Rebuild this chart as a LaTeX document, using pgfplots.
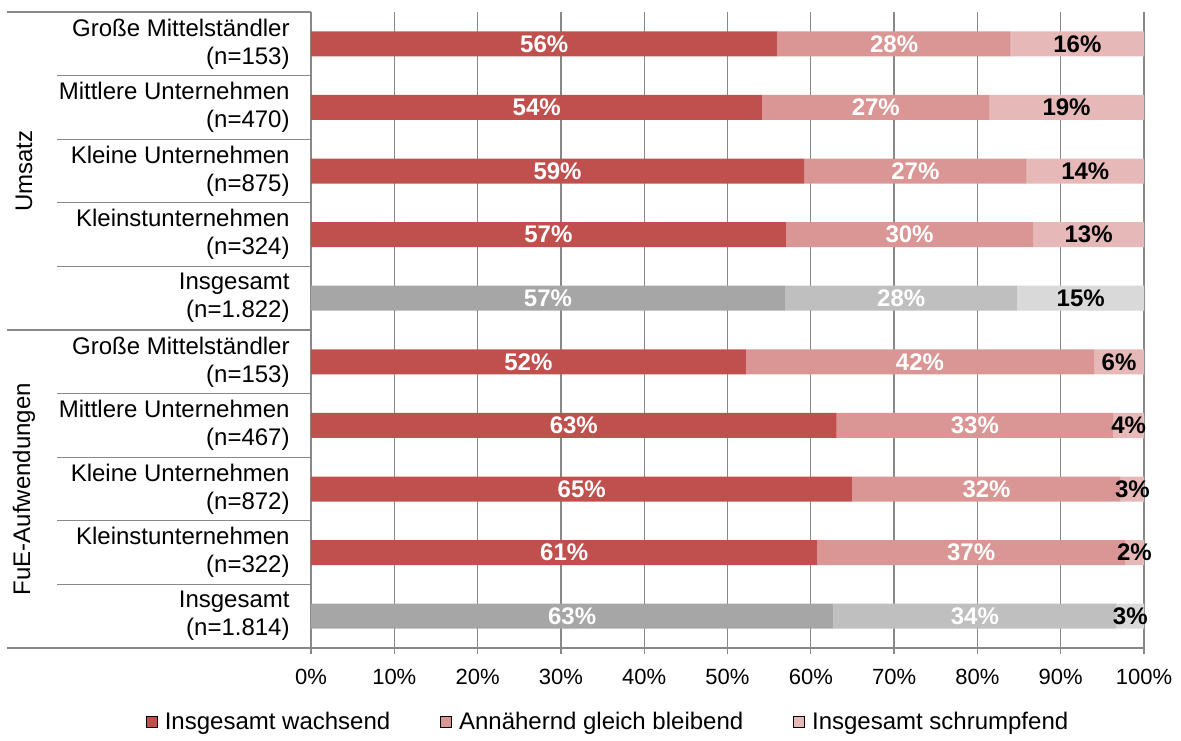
\documentclass[border=0pt]{standalone}
\usepackage{fontspec}
\setmainfont{Liberation Sans}
\usepackage{pgfplots}
\pgfplotsset{compat=1.18}
\usepackage{pgfplotstable}

\definecolor{cA}{HTML}{C0504D}
\definecolor{cB}{HTML}{D99694}
\definecolor{cC}{HTML}{E6B9B8}
\definecolor{gA}{HTML}{A6A6A6}
\definecolor{gB}{HTML}{BFBFBF}
\definecolor{gC}{HTML}{D9D9D9}
\definecolor{lineg}{HTML}{888888}

\pgfplotstableread{
y a b c g
9 56.0 28.0 16.0 0
8 54.2 27.2 18.6 0
7 59.2 26.7 14.1 0
6 57.0 29.7 13.3 0
5 56.9 27.9 15.2 1
4 52.2 41.8 6.0 0
3 63.1 33.2 3.7 0
2 65.0 32.2 2.8 0
1 60.8 36.9 2.3 0
0 62.7 34.0 3.3 1
}\data

\pgfplotsset{
  common/.style={
    scale only axis, width=416.5pt, height=318pt,
    at={(0,0)}, anchor=south west,
    xmin=0, xmax=100, ymin=-0.5, ymax=9.5,
  },
  lbl/.style={
    only marks, mark=none, point meta=explicit,
    nodes near coords={\pgfmathprintnumber[fixed,precision=0]{\pgfplotspointmeta}\%},
    every node near coord/.append style={anchor=center, inner sep=0pt,
      font=\fontsize{12}{14}\selectfont\bfseries, text=#1},
  },
}

\begin{document}
\begin{tikzpicture}
\useasboundingbox (-155.5pt,-46pt) rectangle (435pt,324pt);
\begin{axis}[
  common,
  xbar stacked, bar width=12.5pt,
  axis x line*=bottom, axis y line*=left,
  axis line style={draw=lineg, line width=0.65pt},
  xtick={0,10,...,100},
  xticklabels={0\%,10\%,20\%,30\%,40\%,50\%,60\%,70\%,80\%,90\%,100\%},
  xticklabel style={font=\fontsize{11}{13}\selectfont, yshift=-4pt},
  ytick={0,...,9},
  yticklabels={
    {Insgesamt\\(n=1.814)},
    {Kleinstunternehmen\\(n=322)},
    {Kleine Unternehmen\\(n=872)},
    {Mittlere Unternehmen\\(n=467)},
    {Große Mittelständler\\(n=153)},
    {Insgesamt\\(n=1.822)},
    {Kleinstunternehmen\\(n=324)},
    {Kleine Unternehmen\\(n=875)},
    {Mittlere Unternehmen\\(n=470)},
    {Große Mittelständler\\(n=153)}},
  yticklabel style={align=right, inner sep=0pt, xshift=-7.5pt,
    font=\fontsize{12}{14}\selectfont},
  ytick style={draw=none},
  xtick style={draw=lineg, line width=0.65pt},
  tick align=outside, major tick length=3pt,
  xmajorgrids,
  grid style={draw=lineg, line width=0.65pt},
  clip=false,
]
\addplot[fill=cA, draw=none] table[x expr=\thisrow{a}*(1-\thisrow{g}), y=y] {\data};
\addplot[fill=gA, draw=none] table[x expr=\thisrow{a}*\thisrow{g}, y=y] {\data};
\addplot[fill=cB, draw=none] table[x expr=\thisrow{b}*(1-\thisrow{g}), y=y] {\data};
\addplot[fill=gB, draw=none] table[x expr=\thisrow{b}*\thisrow{g}, y=y] {\data};
\addplot[fill=cC, draw=none] table[x expr=\thisrow{c}*(1-\thisrow{g}), y=y] {\data};
\addplot[fill=gC, draw=none] table[x expr=\thisrow{c}*\thisrow{g}, y=y] {\data};

\pgfplotsinvokeforeach{0.5,1.5,2.5,3.5,5.5,6.5,7.5,8.5}{
  \draw[lineg, line width=0.65pt] ([xshift=-127pt]axis cs:0,#1) -- (axis cs:0,#1);
}
\pgfplotsinvokeforeach{-0.5,4.5,9.5}{
  \draw[lineg, line width=0.65pt] ([xshift=-152pt]axis cs:0,#1) -- (axis cs:0,#1);
}
\node[rotate=90, font=\fontsize{12}{14}\selectfont] at ([xshift=-143.5pt]axis cs:0,7) {Umsatz};
\node[rotate=90, font=\fontsize{12}{14}\selectfont] at ([xshift=-143.5pt]axis cs:0,2) {FuE-Aufwendungen};
\end{axis}

\begin{axis}[
  common, hide axis,
  /pgf/number format/assume math mode=true,
]
\addplot[lbl=white] table[x expr=\thisrow{a}/2, y=y, meta=a] {\data};
\addplot[lbl=white] table[x expr=\thisrow{a}+\thisrow{b}/2, y=y, meta=b] {\data};
\addplot[lbl=black] table[x expr=\thisrow{a}+\thisrow{b}+\thisrow{c}/2, y=y, meta=c] {\data};
\end{axis}

\begin{axis}[
  common, hide axis,
  legend image code/.code={\fill[#1] (0pt,-2.75pt) rectangle (5.5pt,2.75pt);},
  legend columns=3,
  legend style={at={(0.3555,-0.1164)}, anchor=center, draw=none, fill=none,
    inner sep=0pt, nodes={inner sep=0pt},
    font=\fontsize{12}{14}\selectfont,
    /tikz/every odd column/.append style={column sep=3.5pt},
    /tikz/every even column/.append style={column sep=25pt}},
]
\addlegendimage{fill=cA}
\addlegendentry{Insgesamt wachsend}
\addlegendimage{fill=cB}
\addlegendentry{Annähernd gleich bleibend}
\addlegendimage{fill=cC}
\addlegendentry{Insgesamt schrumpfend}
\end{axis}
\end{tikzpicture}
\end{document}
